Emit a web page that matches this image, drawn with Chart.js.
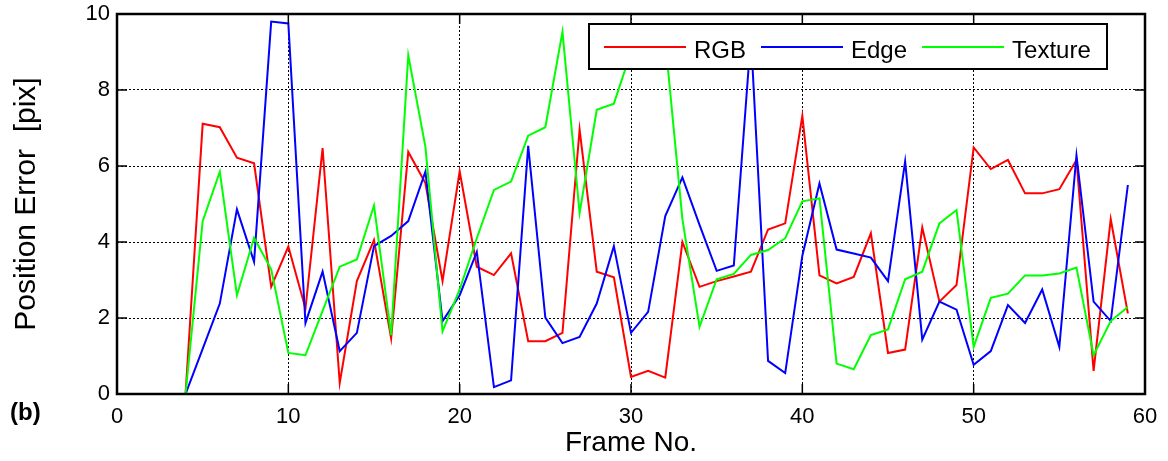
<!DOCTYPE html>
<html>
<head>
<meta charset="utf-8">
<script src="https://cdn.jsdelivr.net/npm/chart.js@4/dist/chart.umd.min.js"></script>
<style>
  html, body { margin: 0; padding: 0; background: #fff; }
  #wrap { width: 1168px; height: 461px; position: relative; }
</style>
</head>
<body>
<div id="wrap"><canvas id="errChart"></canvas></div>
<script>
// frame numbers (x) and position error per tracker (y, in pixels)
const frames = [4, 5, 6, 7, 8, 9, 10, 11, 12, 13, 14, 15, 16, 17, 18, 19, 20, 21, 22, 23, 24, 25, 26, 27, 28, 29, 30, 31,
    32, 33, 34, 35, 36, 37, 38, 39, 40, 41, 42, 43, 44, 45, 46, 47, 48, 49, 50, 51, 52, 53, 54, 55, 56, 57, 58, 59];

const rgbErr = [0, 7.11, 7.02, 6.22, 6.07, 2.82, 3.88, 2.25, 6.47, 0.29, 2.97, 4.05, 1.46, 6.37, 5.55, 2.97, 5.86, 3.35,
    3.13, 3.70, 1.39, 1.39, 1.61, 6.96, 3.22, 3.07, 0.45, 0.61, 0.43, 4.00, 2.82, 2.97, 3.09, 3.22, 4.33, 4.49, 7.32, 3.12,
    2.91, 3.08, 4.23, 1.08, 1.17, 4.38, 2.43, 2.87, 6.49, 5.92, 6.16, 5.28, 5.28, 5.39, 6.16, 0.61, 4.60, 2.12];

const edgeErr = [0, 1.19, 2.38, 4.86, 3.48, 9.80, 9.75, 1.87, 3.22, 1.13, 1.61, 3.89, 4.16, 4.55, 5.85, 1.92, 2.60, 3.74,
    0.18, 0.36, 6.53, 2.01, 1.34, 1.50, 2.38, 3.89, 1.61, 2.16, 4.68, 5.70, 4.45, 3.24, 3.38, 9.40, 0.87, 0.55, 3.64, 5.54,
    3.80, 3.70, 3.59, 2.97, 6.12, 1.43, 2.43, 2.22, 0.77, 1.13, 2.34, 1.87, 2.75, 1.24, 6.28, 2.43, 1.92, 5.50];

const textureErr = [0, 4.55, 5.85, 2.60, 4.11, 3.28, 1.08, 1.02, 2.19, 3.35, 3.54, 4.96, 1.55, 8.91, 6.51, 1.65, 2.75, 4.10,
    5.37, 5.59, 6.80, 7.02, 9.53, 4.76, 7.48, 7.64, 9.00, 9.20, 9.30, 4.60, 1.77, 3.02, 3.16, 3.66, 3.79, 4.10, 5.07, 5.15,
    0.80, 0.65, 1.55, 1.70, 3.02, 3.22, 4.49, 4.84, 1.24, 2.53, 2.64, 3.12, 3.12, 3.17, 3.33, 1.02, 1.92, 2.29];

const xTicks = [0, 10, 20, 30, 40, 50, 60];
const yTicks = [0, 2, 4, 6, 8, 10];

const FONT = "'Liberation Sans', Arial, sans-serif";

function toPoints(values) {
    return frames.map((f, i) => ({ x: f, y: values[i] }));
}

// MATLAB style box: solid frame with inward tick marks on all four sides
const boxPlugin = {
    id: 'boxPlugin',
    afterDraw(chart) {
        const { ctx, chartArea: a, scales } = chart;
        const len = 10;
        ctx.save();
        ctx.strokeStyle = '#000';
        ctx.lineWidth = 1.5;
        ctx.beginPath();
        xTicks.forEach(v => {
            const px = scales.x.getPixelForValue(v);
            ctx.moveTo(px, a.bottom); ctx.lineTo(px, a.bottom - len);
            ctx.moveTo(px, a.top); ctx.lineTo(px, a.top + len);
        });
        yTicks.forEach(v => {
            const py = scales.y.getPixelForValue(v);
            ctx.moveTo(a.left, py); ctx.lineTo(a.left + len, py);
            ctx.moveTo(a.right, py); ctx.lineTo(a.right - len, py);
        });
        ctx.stroke();
        ctx.lineWidth = 2.5;
        ctx.strokeRect(a.left, a.top, a.right - a.left, a.bottom - a.top);

        // panel tag
        ctx.fillStyle = '#000';
        ctx.font = 'bold 24px ' + FONT;
        ctx.textAlign = 'left';
        ctx.textBaseline = 'alphabetic';
        ctx.fillText('(b)', 10, 420);
        ctx.restore();
    }
};

// boxed legend in the upper right of the axes
const legendPlugin = {
    id: 'boxLegend',
    afterDraw(chart) {
        const ctx = chart.ctx;
        const box = { left: 589, top: 24, right: 1107, bottom: 69 };
        ctx.save();
        ctx.fillStyle = '#fff';
        ctx.fillRect(box.left, box.top, box.right - box.left, box.bottom - box.top);
        ctx.strokeStyle = '#000';
        ctx.lineWidth = 2;
        ctx.strokeRect(box.left, box.top, box.right - box.left, box.bottom - box.top);

        ctx.font = '24px ' + FONT;
        ctx.textAlign = 'left';
        ctx.textBaseline = 'alphabetic';
        let x = 604;
        const ly = 47;
        chart.data.datasets.forEach(ds => {
            ctx.strokeStyle = ds.borderColor;
            ctx.lineWidth = 2;
            ctx.beginPath();
            ctx.moveTo(x, ly);
            ctx.lineTo(x + 82, ly);
            ctx.stroke();
            ctx.fillStyle = '#000';
            ctx.fillText(ds.label, x + 90, 58);
            x += 90 + ctx.measureText(ds.label).width + 15;
        });
        ctx.restore();
    }
};

const ctx = document.getElementById('errChart').getContext('2d');
new Chart(ctx, {
    type: 'line',
    data: {
        datasets: [
            { label: 'RGB', data: toPoints(rgbErr), borderColor: '#ff0000', order: 3 },
            { label: 'Edge', data: toPoints(edgeErr), borderColor: '#0000ff', order: 2 },
            { label: 'Texture', data: toPoints(textureErr), borderColor: '#00ff00', order: 1 }
        ]
    },
    options: {
        responsive: true,
        maintainAspectRatio: false,
        devicePixelRatio: 1,
        animation: false,
        layout: { padding: { left: 0, top: 14, right: 23, bottom: 0 } },
        elements: {
            line: { borderWidth: 2, tension: 0, fill: false },
            point: { radius: 0, hoverRadius: 0 }
        },
        plugins: {
            legend: { display: false },
            tooltip: { enabled: false }
        },
        scales: {
            x: {
                type: 'linear',
                min: 0,
                max: 60,
                afterBuildTicks: scale => { scale.ticks = xTicks.map(v => ({ value: v })); },
                afterFit: scale => {
                    scale.height = 67;
                    scale.paddingLeft = 0;
                    scale.paddingRight = 0;
                },
                grid: { color: '#000', lineWidth: 1, drawTicks: false },
                border: { display: false, dash: [2, 2] },
                ticks: { color: '#000', padding: 10, font: { family: FONT, size: 22 } },
                title: {
                    display: true,
                    text: 'Frame No.',
                    color: '#000',
                    font: { family: FONT, size: 28 },
                    padding: { top: 0, bottom: 1 }
                }
            },
            y: {
                min: 0,
                max: 10,
                afterBuildTicks: scale => { scale.ticks = yTicks.map(v => ({ value: v })); },
                afterFit: scale => {
                    scale.width = 117;
                    scale.paddingTop = 0;
                    scale.paddingBottom = 0;
                },
                grid: { color: '#000', lineWidth: 1, drawTicks: false },
                border: { display: false, dash: [2, 2] },
                ticks: { color: '#000', padding: 7, font: { family: FONT, size: 22 } },
                title: {
                    display: true,
                    text: 'Position Error  [pix]',
                    color: '#000',
                    font: { family: FONT, size: 30 },
                    padding: { top: 9, bottom: 0 }
                }
            }
        }
    },
    plugins: [boxPlugin, legendPlugin]
});
</script>
</body>
</html>
